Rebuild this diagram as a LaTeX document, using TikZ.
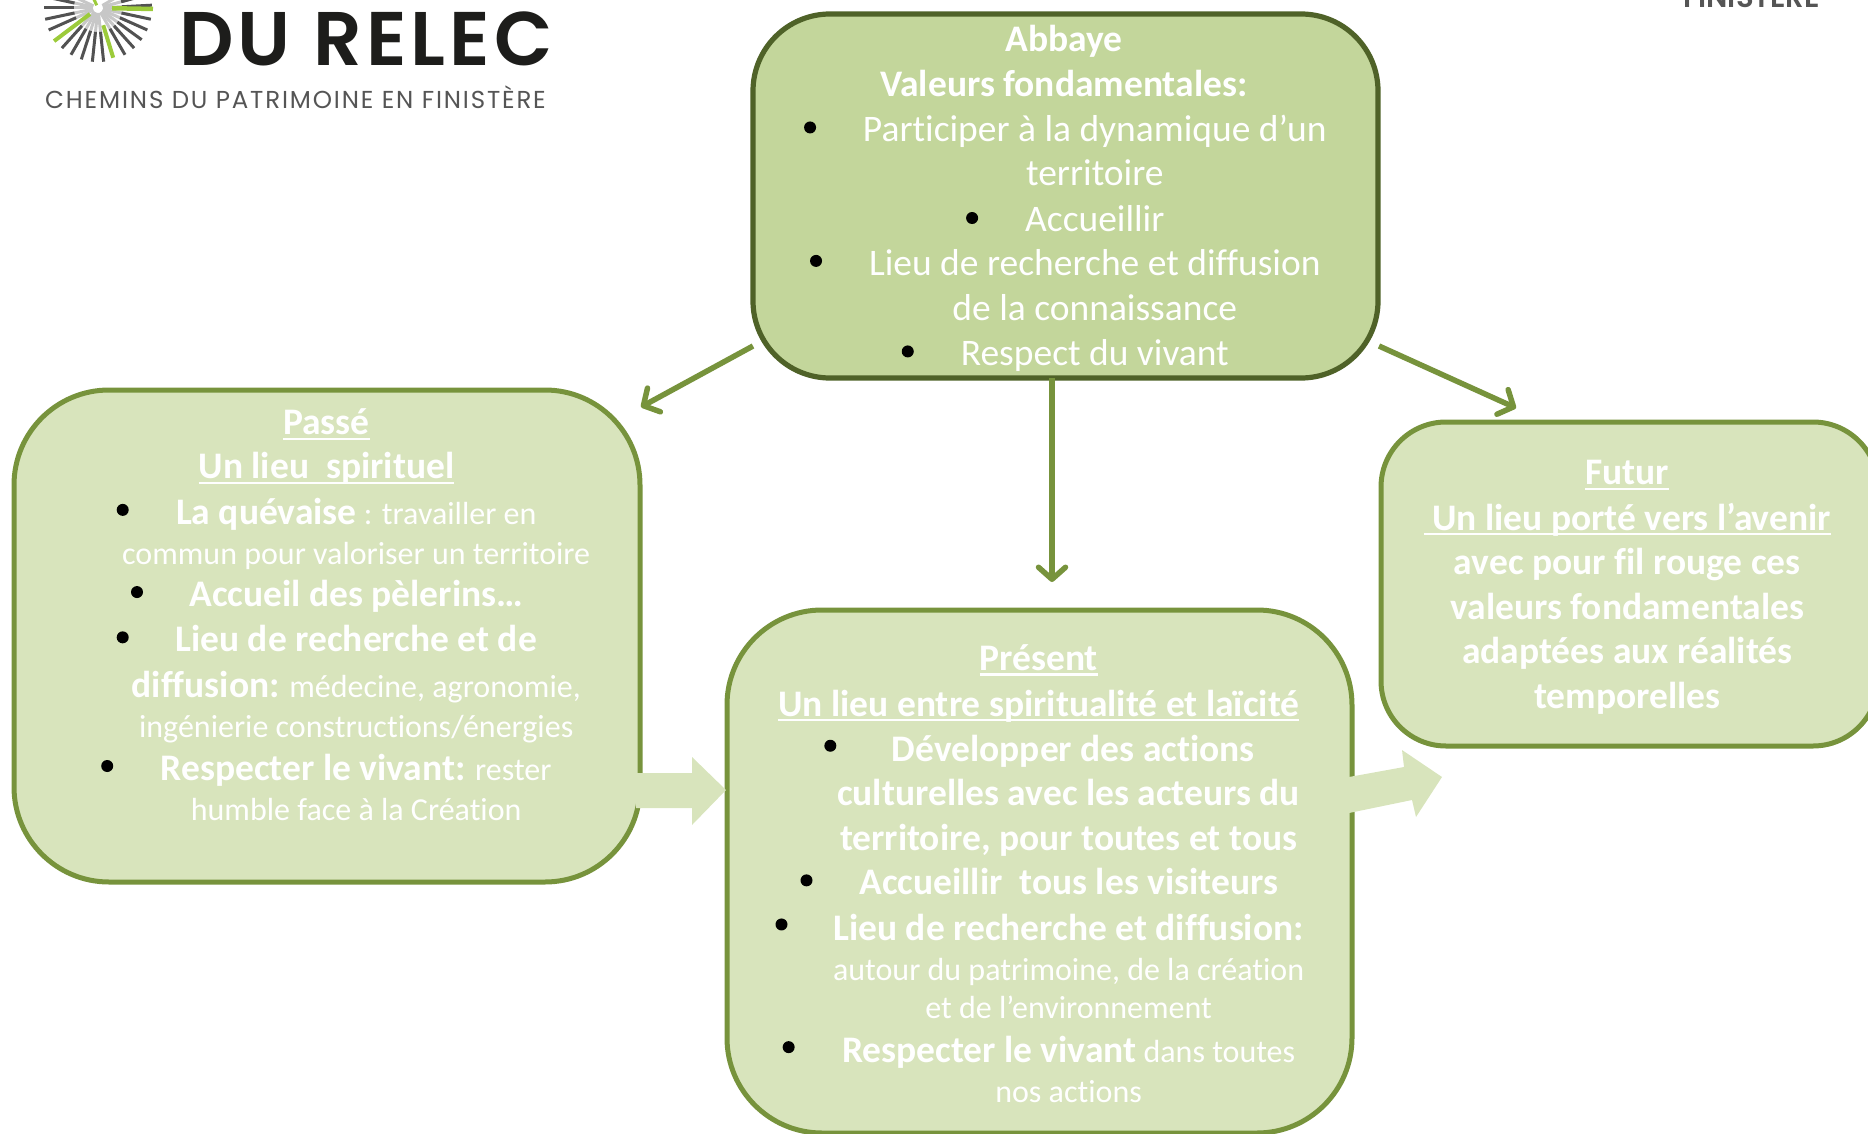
\documentclass[tikz,border=0pt]{standalone}
\usepackage{fontspec}
\setmainfont[Ligatures=NoCommon]{Carlito}
\newfontfamily\logofont{Poppins}
\newfontfamily\logoheavy{Poppins SemiBold}
\usetikzlibrary{arrows.meta}
\definecolor{topfill}{HTML}{C3D69B}
\definecolor{topline}{HTML}{4F6228}
\definecolor{boxfill}{HTML}{D8E4BC}
\definecolor{boxline}{HTML}{77933C}
\definecolor{logoink}{HTML}{1D1D1B}
\definecolor{logosub}{HTML}{555555}
\definecolor{logogreen}{HTML}{9CCB3B}
\newcommand{\bt}[1]{{\fontsize{37.5}{41}\selectfont\bfseries #1}}
\newcommand{\rg}[1]{{\fontsize{37.5}{41}\selectfont #1}}
\newcommand{\sm}[1]{{\fontsize{32}{36}\selectfont #1}}
\newcommand{\ul}[1]{\leavevmode\setbox0=\hbox{#1}\rlap{\copy0}\raisebox{-5pt}{\rule{\wd0}{2.4pt}}}
\tikzset{
  panel/.style={draw=boxline,fill=boxfill,line width=5pt,rounded corners=#1,inner sep=0pt},
  toppanel/.style={draw=topline,fill=topfill,line width=5.2pt,rounded corners=#1,inner sep=0pt},
  ln/.style={anchor=base,text=white,inner sep=0pt,yshift=-12pt},
  bul/.style={circle,fill=black,inner sep=0pt,minimum size=12pt},
  conn/.style={draw=boxline,line width=5.5pt,-{Straight Barb[length=12pt,width=27pt,line width=5.5pt,round]}},
  block/.style={fill=boxfill,draw=none},
  ray/.style={line width=3pt,draw=#1}
}
\begin{document}
\begin{tikzpicture}[x=1pt,y=-1pt]
\useasboundingbox (0,0) rectangle (1868,1134);
% logo
\foreach \a in {-30,-15,-3,12,24,36,48,60,84,96,108,120,132,156,168,180,192,205} {
  \draw[ray=black!22] (98,8) ++(\a:5) -- ++(\a:26);
  \draw[ray=black!68] (98,8) ++(\a:24) -- ++(\a:30);
}
\draw[ray=logogreen,line width=4.5pt] (98,8) ++(1:14) -- ++(1:41);
\draw[ray=logogreen,line width=4pt] (98,8) ++(143:10) -- ++(143:45);
\draw[ray=logogreen,line width=4pt] (98,8) ++(73:18) -- ++(73:34);
\draw[ray=logogreen,line width=3pt] (98,8) ++(-115:3) -- ++(-115:12);
\node[inner sep=0pt,anchor=base west,text=logoink] (relec) at (179,66)
  {\logoheavy\fontsize{76}{80}\selectfont\addfontfeature{LetterSpace=5.5}DU RELEC};
\node[inner sep=0pt,anchor=base west,text=logosub] (chemins) at (45,109)
  {\logofont\fontsize{24.5}{28}\selectfont\addfontfeature{LetterSpace=7.5}CHEMINS DU PATRIMOINE EN FINISTÈRE};
\node[inner sep=0pt,anchor=base west,text=logosub] (finistere) at (1683,8)
  {\logoheavy\fontsize{29}{30}\selectfont FINISTÈRE};
% panels
\node[toppanel=77pt,minimum width=625pt,minimum height=364pt] (abbaye) at (1065.5,196) {};
\node[panel=95pt,minimum width=626pt,minimum height=492pt] (passe) at (327,636) {};
\node[panel=95pt,minimum width=625pt,minimum height=523pt] (present) at (1039.5,871.5) {};
\node[panel=65pt,minimum width=497pt,minimum height=324pt] (futur) at (1629.5,584) {};
% block arrows
\fill[block] (636,773) -- (692,773) -- (692,757) -- (726,790) -- (692,825) -- (692,808) -- (636,808) -- cycle;
\fill[block] (1349,777) -- (1404,767) -- (1402,750) -- (1442,777) -- (1416,817) -- (1412,800) -- (1349,813) -- cycle;
% connectors
\coordinate (a1) at (753,346);
\coordinate (b1) at (641,407);
\coordinate (a2) at (1052,378);
\coordinate (b2) at (1052,582);
\coordinate (a3) at (1379,346);
\coordinate (b3) at (1516,408);
\draw[conn] (a1) -- (b1);
\draw[conn] (a2) -- (b2);
\draw[conn] (a3) -- (b3);
% text, in the reference's displayed coordinates
\begin{scope}[x=1.1913pt,y=-1.1913pt]
\node[ln] (t1) at (893,33) {\bt{Abbaye}};
\node[ln] (t2) at (893,71) {\bt{Valeurs fondamentales:}};
\node[bul] (tb1) at (680,107) {};
\node[ln] (t3) at (919,109) {\rg{Participer à la dynamique d’un}};
\node[ln] (t4) at (919,146) {\rg{territoire}};
\node[bul] (tb2) at (816,183) {};
\node[ln] (t5) at (919,184) {\rg{Accueillir}};
\node[bul] (tb3) at (685,219) {};
\node[ln] (t6) at (919,221) {\rg{Lieu de recherche et diffusion}};
\node[ln] (t7) at (919,259) {\rg{de la connaissance}};
\node[bul] (tb4) at (762,295) {};
\node[ln] (t8) at (919,297) {\rg{Respect du vivant}};
%
\node[ln] (p1) at (274,355) {\bt{\ul{Passé}}};
\node[ln] (p2) at (274,392) {\bt{\ul{Un lieu\ \ spirituel}}};
\node[bul] (pb1) at (103,428) {};
\node[ln] (p3) at (299,430) {\bt{La quévaise}\sm{ : travailler en}};
\node[ln] (p4) at (299,464) {\sm{commun pour valoriser un territoire}};
\node[bul] (pb2) at (115,497) {};
\node[ln] (p5) at (299,499) {\bt{Accueil des pèlerins…}};
\node[bul] (pb3) at (103,535) {};
\node[ln] (p6) at (299,537) {\bt{Lieu de recherche et de}};
\node[ln] (p7) at (299,575) {\bt{diffusion:}\sm{ médecine, agronomie,}};
\node[ln] (p8) at (299,609) {\sm{ingénierie constructions/énergies}};
\node[bul] (pb4) at (90,643) {};
\node[ln] (p9) at (299,645) {\bt{Respecter le vivant:}\sm{ rester}};
\node[ln] (p10) at (299,679) {\sm{humble face à la Création}};
%
\node[ln] (n1) at (872,553) {\bt{\ul{Présent}}};
\node[ln] (n2) at (872,591) {\bt{\ul{Un lieu entre spiritualité et laïcité}}};
\node[bul] (nb1) at (697,626) {};
\node[ln] (n3) at (901,629) {\bt{Développer des actions}};
\node[ln] (n4) at (897,666) {\bt{culturelles avec les acteurs du}};
\node[ln] (n5) at (897,704) {\bt{territoire, pour toutes et tous}};
\node[bul] (nb2) at (677,739) {};
\node[ln] (n6) at (897,741) {\bt{Accueillir\ \ tous les visiteurs}};
\node[bul] (nb3) at (656,776) {};
\node[ln] (n7) at (897,779) {\bt{Lieu de recherche et diffusion:}};
\node[ln] (n8) at (897,813) {\sm{autour du patrimoine, de la création}};
\node[ln] (n9) at (897,845) {\sm{et de l’environnement}};
\node[bul] (nb4) at (662,879) {};
\node[ln] (n10) at (897,882) {\bt{Respecter le vivant}\sm{ dans toutes}};
\node[ln] (n11) at (897,915) {\sm{nos actions}};
%
\node[ln] (f1) at (1366,397) {\bt{\ul{Futur}}};
\node[ln] (f2) at (1366,435) {\bt{\ul{\ Un lieu porté vers l’avenir}}};
\node[ln] (f3) at (1366,472) {\bt{avec pour fil rouge ces}};
\node[ln] (f4) at (1366,510) {\bt{valeurs fondamentales}};
\node[ln] (f5) at (1366,547) {\bt{adaptées aux réalités}};
\node[ln] (f6) at (1366,585) {\bt{temporelles}};
\end{scope}
\end{tikzpicture}
\end{document}
